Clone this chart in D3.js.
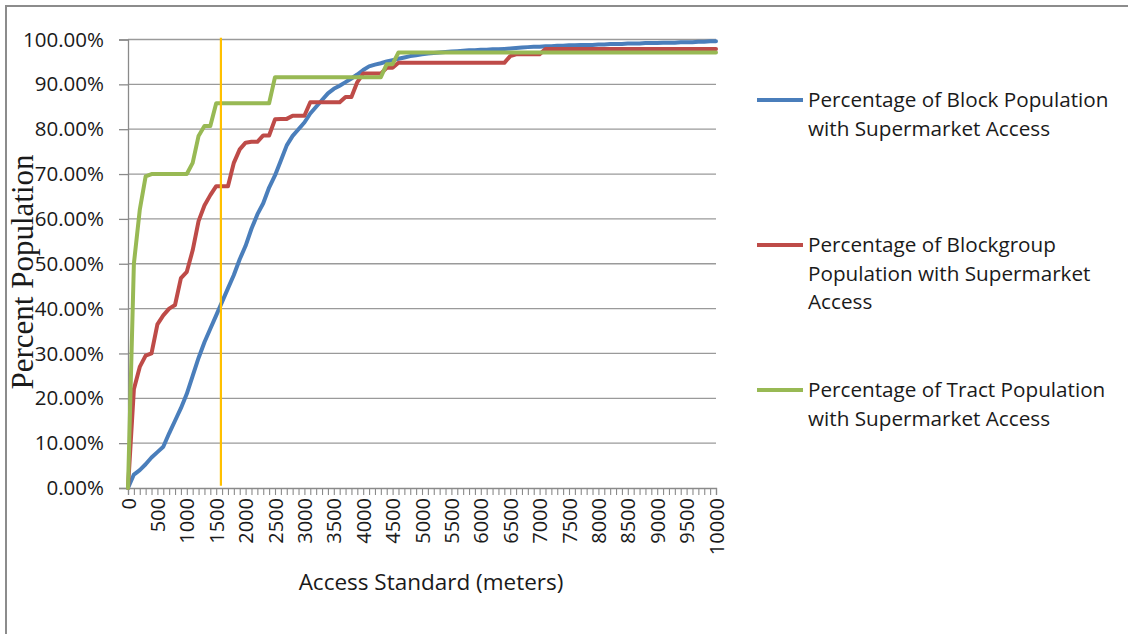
<!DOCTYPE html>
<html>
<head>
<meta charset="utf-8">
<script src="https://cdn.jsdelivr.net/npm/d3@7"></script>
<style>
  html, body { margin: 0; padding: 0; background: #fff; }
  svg { display: block; }
  text { font-family: "Open Sans", "Liberation Sans", sans-serif; fill: #1a1a1a; }
</style>
</head>
<body>
<svg id="chart" width="1128" height="634"></svg>
<script>
// Access standard categories (meters), one every 100 m
const distances = d3.range(0, 10001, 100);

// Axis tick labels
const xTickLabels = ["0","500","1000","1500","2000","2500","3000","3500","4000","4500","5000",
  "5500","6000","6500","7000","7500","8000","8500","9000","9500","10000"];
const yTicks = [0, 10, 20, 30, 40, 50, 60, 70, 80, 90, 100];

// Percentage of population with supermarket access at each access standard
const blockValues = [
  0, 3, 4, 5.3, 6.8, 8.0, 9.2, 12.2, 15, 17.8,
  21, 25, 29, 32.5, 35.5, 38.5, 41.5, 44.5, 47.5, 51,
  54, 57.8, 61, 63.5, 67, 69.7, 73, 76.4, 78.5, 80,
  81.5, 83.5, 85, 86.5, 88, 89, 89.7, 90.5, 91.3, 92.2,
  93.2, 94, 94.4, 94.7, 95.1, 95.4, 95.7, 96, 96.3, 96.5,
  96.7, 96.9, 97.0, 97.1, 97.2, 97.3, 97.4, 97.5, 97.6, 97.6,
  97.7, 97.7, 97.8, 97.8, 97.9, 98.0, 98.1, 98.2, 98.3, 98.4,
  98.4, 98.5, 98.5, 98.6, 98.6, 98.7, 98.7, 98.8, 98.8, 98.8,
  98.9, 98.9, 99.0, 99.0, 99.0, 99.1, 99.1, 99.1, 99.2, 99.2,
  99.2, 99.3, 99.3, 99.3, 99.4, 99.4, 99.4, 99.5, 99.5, 99.6,
  99.6
];

const blockgroupValues = [
  0, 22, 27, 29.5, 30, 36.5, 38.5, 40, 40.8, 46.8,
  48.2, 53, 59.5, 63, 65.3, 67.3, 67.3, 67.3, 72.5, 75.5,
  77, 77.2, 77.2, 78.6, 78.6, 82.2, 82.3, 82.3, 83, 83,
  83, 86, 86, 86, 86, 86, 86, 87.2, 87.2, 90.5,
  92.4, 92.4, 92.4, 92.4, 93.7, 93.7, 94.8, 94.8, 94.8, 94.8,
  94.8, 94.8, 94.8, 94.8, 94.8, 94.8, 94.8, 94.8, 94.8, 94.8,
  94.8, 94.8, 94.8, 94.8, 94.8, 96.3, 96.7, 96.7, 96.7, 96.7,
  96.7, 97.9, 97.9, 97.9, 97.9, 97.9, 97.9, 97.9, 97.9, 97.9,
  97.9, 97.9, 97.9, 97.9, 97.9, 97.9, 97.9, 97.9, 97.9, 97.9,
  97.9, 97.9, 97.9, 97.9, 97.9, 97.9, 97.9, 97.9, 97.9, 97.9,
  97.9
];

const tractValues = [
  0, 50, 62, 69.5, 70, 70, 70, 70, 70, 70,
  70, 72.5, 78.5, 80.7, 80.7, 85.8, 85.8, 85.8, 85.8, 85.8,
  85.8, 85.8, 85.8, 85.8, 85.8, 91.6, 91.6, 91.6, 91.6, 91.6,
  91.6, 91.6, 91.6, 91.6, 91.6, 91.6, 91.6, 91.6, 91.6, 91.6,
  91.6, 91.6, 91.6, 91.6, 94.5, 94.5, 97.1, 97.1, 97.1, 97.1,
  97.1, 97.1, 97.1, 97.1, 97.1, 97.1, 97.1, 97.1, 97.1, 97.1,
  97.1, 97.1, 97.1, 97.1, 97.1, 97.1, 97.1, 97.1, 97.1, 97.1,
  97.1, 97.1, 97.1, 97.1, 97.1, 97.1, 97.1, 97.1, 97.1, 97.1,
  97.1, 97.1, 97.1, 97.1, 97.1, 97.1, 97.1, 97.1, 97.1, 97.1,
  97.1, 97.1, 97.1, 97.1, 97.1, 97.1, 97.1, 97.1, 97.1, 97.1,
  97.1
];

const seriesNames = [
  ["Percentage of Block Population", "with Supermarket Access"],
  ["Percentage of Blockgroup", "Population with Supermarket", "Access"],
  ["Percentage of Tract Population", "with Supermarket Access"]
];
const seriesColors = ["#4a7ebb", "#be4b48", "#98b954"];

// Vertical marker at the chosen access standard
const markerDistance = 1580;
const markerRange = [0.5, 100.4];

const svg = d3.select("#chart");

// Chart frame
svg.append("rect")
  .attr("x", 6).attr("y", 6).attr("width", 1300).attr("height", 800)
  .attr("fill", "#fff").attr("stroke", "#8c8c8c").attr("stroke-width", 2);

const plot = { left: 128, right: 716, top: 39.5, bottom: 488 };

const x = d3.scaleLinear().domain([0, 10000]).range([plot.left, plot.right]);
const y = d3.scaleLinear().domain([0, 100]).range([plot.bottom, plot.top]);

// Horizontal gridlines
svg.append("g")
  .selectAll("line")
  .data(yTicks.filter(d => d > 0))
  .join("line")
  .attr("x1", plot.left).attr("x2", plot.right)
  .attr("y1", d => y(d)).attr("y2", d => y(d))
  .attr("stroke", "#9a9a9a").attr("stroke-width", 1.3);

// Y axis
const yAxis = d3.axisLeft(y)
  .tickValues(yTicks)
  .tickSize(9)
  .tickPadding(15)
  .tickFormat(d => d.toFixed(2) + "%");
const gy = svg.append("g").attr("transform", `translate(${plot.left},0)`).call(yAxis);
gy.select(".domain").attr("stroke", "#8a8a8a").attr("stroke-width", 1.3);
gy.selectAll(".tick line").attr("stroke", "#8a8a8a").attr("stroke-width", 1.3);
gy.selectAll(".tick text")
  .attr("font-family", "Open Sans").attr("font-size", 20.5).attr("fill", "#1a1a1a");

// X axis: a tick at every category, labels every 500 m
const xAxis = d3.axisBottom(x)
  .tickValues(distances)
  .tickSize(7)
  .tickFormat(d => xTickLabels.includes(String(d)) ? String(d) : "");
const gx = svg.append("g").attr("transform", `translate(0,${plot.bottom})`).call(xAxis);
gx.select(".domain").attr("stroke", "#8a8a8a").attr("stroke-width", 1.3);
gx.selectAll(".tick line").attr("stroke", "#8a8a8a").attr("stroke-width", 1.1);
gx.selectAll(".tick text")
  .attr("font-family", "Open Sans").attr("font-size", 20).attr("fill", "#1a1a1a")
  .attr("transform", "rotate(-90)")
  .attr("text-anchor", "end")
  .attr("x", -10).attr("y", 0).attr("dy", "0.35em");

// Series lines
const line = d3.line()
  .x((d, i) => x(distances[i]))
  .y(d => y(d));

[blockValues, blockgroupValues, tractValues].forEach((vals, k) => {
  svg.append("path")
    .datum(vals)
    .attr("d", line)
    .attr("fill", "none")
    .attr("stroke", seriesColors[k])
    .attr("stroke-width", 4)
    .attr("stroke-linejoin", "round")
    .attr("stroke-linecap", "round");
});

// Marker line
svg.append("line")
  .attr("x1", x(markerDistance)).attr("x2", x(markerDistance))
  .attr("y1", y(markerRange[0])).attr("y2", y(markerRange[1]))
  .attr("stroke", "#ffc000").attr("stroke-width", 2.2);

// Axis titles
svg.append("text")
  .attr("transform", "translate(33,272) rotate(-90)")
  .attr("text-anchor", "middle")
  .style("font-family", "'Liberation Serif', serif")
  .attr("font-size", 31)
  .text("Percent Population");

svg.append("text")
  .attr("x", 431).attr("y", 590)
  .attr("text-anchor", "middle")
  .attr("font-size", 22.5)
  .text("Access Standard (meters)");

// Legend
const legendTops = [100, 245, 390];
const legend = svg.append("g");
seriesNames.forEach((lines, k) => {
  legend.append("line")
    .attr("x1", 757).attr("x2", 803)
    .attr("y1", legendTops[k]).attr("y2", legendTops[k])
    .attr("stroke", seriesColors[k]).attr("stroke-width", 4);
  lines.forEach((t, j) => {
    legend.append("text")
      .attr("x", 808).attr("y", legendTops[k] + j * 28.5)
      .attr("dy", "0.35em")
      .attr("font-size", 20.7)
      .text(t);
  });
});
</script>
</body>
</html>
